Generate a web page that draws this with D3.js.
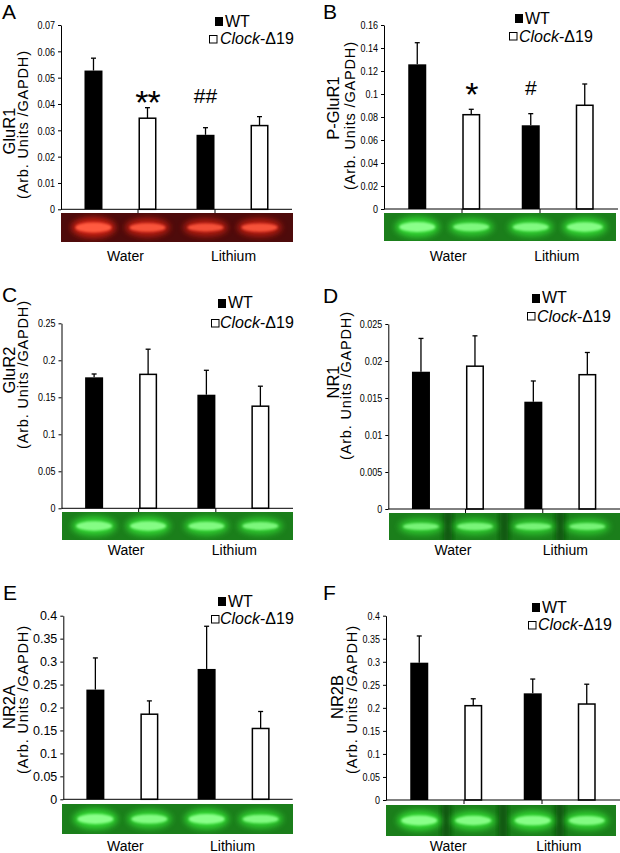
<!DOCTYPE html>
<html><head><meta charset="utf-8">
<script src="https://cdn.jsdelivr.net/npm/d3@7"></script>
<style>body{margin:0;background:#fff}svg{display:block}</style>
</head><body>
<svg id="chart" width="620" height="853"></svg>
<script>
// ---------------- DATA ----------------
const categories = ["Water", "Lithium"];
const seriesNames = ["WT", "Clock-Δ19"];

// order of each array: [Water, Lithium]
const gluR1WT = [0.0527, 0.0283], gluR1Clock = [0.0346, 0.0318];
const gluR1WTErr = [0.0047, 0.0027], gluR1ClockErr = [0.0040, 0.0034];
const gluR1Ticks = [0, 0.01, 0.02, 0.03, 0.04, 0.05, 0.06, 0.07];
const gluR1Marks = ["", "**", "##", ""]; // WT-Water, Clock-Water, WT-Lithium, Clock-Lithium

const pGluR1WT = [0.1258, 0.0728], pGluR1Clock = [0.0820, 0.0902];
const pGluR1WTErr = [0.0188, 0.0101], pGluR1ClockErr = [0.0047, 0.0185];
const pGluR1Ticks = [0, 0.02, 0.04, 0.06, 0.08, 0.1, 0.12, 0.14, 0.16];
const pGluR1Marks = ["", "*", "#", ""];

const gluR2WT = [0.177, 0.1535], gluR2Clock = [0.181, 0.138];
const gluR2WTErr = [0.0045, 0.033], gluR2ClockErr = [0.034, 0.027];
const gluR2Ticks = [0, 0.05, 0.1, 0.15, 0.2, 0.25];

const nr1WT = [0.01855, 0.0145], nr1Clock = [0.0193, 0.01815];
const nr1WTErr = [0.0045, 0.0028], nr1ClockErr = [0.0041, 0.003];
const nr1Ticks = [0, 0.005, 0.01, 0.015, 0.02, 0.025];

const nr2aWT = [0.239, 0.284], nr2aClock = [0.1854, 0.1543];
const nr2aWTErr = [0.069, 0.093], nr2aClockErr = [0.029, 0.037];
const nr2aTicks = [0, 0.05, 0.1, 0.15, 0.2, 0.25, 0.3, 0.35, 0.4];

const nr2bWT = [0.298, 0.2315], nr2bClock = [0.2047, 0.2083];
const nr2bWTErr = [0.058, 0.031], nr2bClockErr = [0.015, 0.043];
const nr2bTicks = [0, 0.05, 0.1, 0.15, 0.2, 0.25, 0.3, 0.35, 0.4];

// western blot band strengths (WT-Water, Clock-Water, WT-Lithium, Clock-Lithium)
const blotA = [1.0, 0.8, 0.7, 0.75];
const blotB = [1.0, 0.75, 0.8, 0.9];
const blotC = [0.9, 0.9, 0.8, 0.7];
const blotD = [0.6, 0.65, 0.6, 0.6];
const blotE = [1.0, 0.85, 1.0, 0.8];
const blotF = [1.0, 0.9, 0.95, 0.85];

// ---------------- LAYOUT ----------------
const panels = [
  {letter:"A", lx:2, ly:19, x0:61, x1:292, yb:209.3, yt:25, ticks:gluR1Ticks,
   wt:gluR1WT, ck:gluR1Clock, wtE:gluR1WTErr, ckE:gluR1ClockErr, marks:gluR1Marks, markY:[114,103],
   name:"GluR1", nameX:8.5, nameY:131, subX:22.5, subY:125,
   leg:{sx:215, sy:17, tx:225, ty:26.5, ox:209, oy:35, otx:220, oty:43.5},
   blot:{x0:61, x1:293, y:213, h:29, red:true, k:blotA}, catY:261, catDx:[5,1], xTicks:true, narrow:true},
  {letter:"B", lx:323, ly:19, x0:384, x1:618, yb:209, yt:25, ticks:pGluR1Ticks,
   wt:pGluR1WT, ck:pGluR1Clock, wtE:pGluR1WTErr, ckE:pGluR1ClockErr, marks:pGluR1Marks, markY:[106,95],
   name:"P-GluR1", nameX:333, nameY:108, subX:349.5, subY:116,
   leg:{sx:515, sy:14, tx:525, ty:24, ox:509, oy:32, otx:519, oty:41.5},
   blot:{x0:384, x1:616, y:213, h:28, k:blotB}, catY:261, catDx:[4,-1], xTicks:true, narrow:true},
  {letter:"C", lx:2, ly:302, x0:61.5, x1:293, yb:508.3, yt:323.3, ticks:gluR2Ticks,
   wt:gluR2WT, ck:gluR2Clock, wtE:gluR2WTErr, ckE:gluR2ClockErr,
   name:"GluR2", nameX:8.5, nameY:370, subX:22.5, subY:375,
   leg:{sx:218, sy:299, tx:228, ty:308, ox:211, oy:319, otx:220, oty:328},
   blot:{x0:62, x1:293, y:512, h:28, k:blotC}, catY:555, catDx:[5,1], xTicks:true, narrow:true},
  {letter:"D", lx:323, ly:303, x0:388.3, x1:620, yb:509, yt:324, ticks:nr1Ticks,
   wt:nr1WT, ck:nr1Clock, wtE:nr1WTErr, ckE:nr1ClockErr,
   name:"NR1", nameX:333, nameY:382, subX:346, subY:386,
   leg:{sx:532, sy:294, tx:542, ty:303, ox:527, oy:312, otx:537, oty:321.5},
   blot:{x0:389, x1:620, y:513, h:27, k:blotD, lanes:true}, catY:555, catDx:[5,5], xTicks:true, narrow:true},
  {letter:"E", lx:3, ly:600, x0:63.3, x1:292.7, yb:799.3, yt:615.7, ticks:nr2aTicks,
   wt:nr2aWT, ck:nr2aClock, wtE:nr2aWTErr, ckE:nr2aClockErr,
   name:"NR2A", nameX:8.5, nameY:707, subX:23, subY:700,
   leg:{sx:218, sy:597, tx:228, ty:606.5, ox:211, oy:615, otx:220, oty:624},
   blot:{x0:62, x1:293, y:804, h:30, k:blotE}, catY:851, catDx:[3,-1], xTicks:false, narrow:false},
  {letter:"F", lx:323, ly:600, x0:386, x1:620, yb:800, yt:615.7, ticks:nr2bTicks,
   wt:nr2bWT, ck:nr2bClock, wtE:nr2bWTErr, ckE:nr2bClockErr,
   name:"NR2B", nameX:337, nameY:697, subX:352, subY:700,
   leg:{sx:532, sy:603, tx:542, ty:613, ox:528, oy:621, otx:538, oty:630},
   blot:{x0:386, x1:616, y:805, h:31, k:blotF, lanes:true}, catY:851, catDx:[2,-1], xTicks:true, narrow:true}
];

const svg = d3.select("#chart");
const defs = svg.append("defs");
defs.append("filter").attr("id","blur3").attr("x","-50%").attr("y","-100%").attr("width","200%").attr("height","300%")
  .append("feGaussianBlur").attr("stdDeviation", 3);
defs.append("filter").attr("id","blur1").attr("x","-50%").attr("y","-100%").attr("width","200%").attr("height","300%")
  .append("feGaussianBlur").attr("stdDeviation", 1.3);

const fmt = d => d === 0 ? "0" : String(+d.toPrecision(6));
const SANS = "'Liberation Sans', Arial, sans-serif";

panels.forEach((p, pi) => {
  const g = svg.append("g");
  const y = d3.scaleLinear().domain([p.ticks[0], p.ticks[p.ticks.length-1]]).range([p.yb, p.yt]);
  const W = p.x1 - p.x0;
  const outer = d3.scalePoint().domain(categories).range([p.x0, p.x1]).padding(0.531);
  const inner = d3.scaleBand().domain(seriesNames).range([-36, 36]).paddingInner(2/3).paddingOuter(0);

  const bars = [];
  categories.forEach((c, ci) => {
    bars.push({cat:c, s:seriesNames[0], v:p.wt[ci], e:p.wtE[ci]});
    bars.push({cat:c, s:seriesNames[1], v:p.ck[ci], e:p.ckE[ci]});
  });
  bars.forEach((b, i) => { b.x = outer(b.cat) + inner(b.s); b.mark = p.marks ? p.marks[i] : ""; b.k = p.blot.k[i]; });
  const bw = inner.bandwidth();

  // error bars
  g.selectAll(".err").data(bars).join("g").each(function(b){
    const cx = b.x + bw/2;
    const s = d3.select(this);
    s.append("line").attr("x1",cx).attr("x2",cx).attr("y1",y(b.v)).attr("y2",y(b.v+b.e)).attr("stroke","#000").attr("stroke-width",1.3);
    s.append("line").attr("x1",cx-2.5).attr("x2",cx+2.5).attr("y1",y(b.v+b.e)).attr("y2",y(b.v+b.e)).attr("stroke","#000").attr("stroke-width",1.3);
  });
  // bars
  g.selectAll(".bar").data(bars).join("rect")
    .attr("x", b => b.s === seriesNames[0] ? b.x : b.x + 0.75)
    .attr("width", b => b.s === seriesNames[0] ? bw : bw - 1.5)
    .attr("y", b => y(b.v))
    .attr("height", b => y(0) - y(b.v))
    .attr("fill", b => b.s === seriesNames[0] ? "#000" : "#fff")
    .attr("stroke", b => b.s === seriesNames[0] ? "none" : "#000")
    .attr("stroke-width", 1.5);

  // y axis
  const ax = d3.axisLeft(y).tickValues(p.ticks).tickFormat(fmt).tickSize(3).tickSizeOuter(0).tickPadding(3);
  const ag = g.append("g").attr("transform", `translate(${p.x0},0)`).call(ax);
  ag.select(".domain").attr("stroke","#000");
  ag.selectAll("line").attr("stroke","#000");
  ag.selectAll("text").attr("font-family", SANS)
    .attr("font-size", p.narrow ? 11.5 : 12.5).attr("fill","#000");
  if (p.narrow) {
    ag.selectAll("text").each(function(){
      const l = this.getComputedTextLength();
      d3.select(this).attr("textLength", l*0.78).attr("lengthAdjust","spacingAndGlyphs");
    });
  }

  // x axis
  g.append("line").attr("x1",p.x0).attr("x2",p.x1).attr("y1",p.yb).attr("y2",p.yb).attr("stroke","#000").attr("stroke-width",1);
  if (p.xTicks) {
    [1/3, 2/3].forEach(f => g.append("line").attr("x1",p.x0+W*f).attr("x2",p.x0+W*f)
      .attr("y1",p.yb).attr("y2",p.yb+4).attr("stroke","#000"));
  }

  // significance marks
  g.selectAll(".mark").data(bars.filter(b => b.mark)).join("text")
    .attr("x", b => b.x + bw/2).attr("y", b => b.mark[0] === "*" ? p.markY[0] : p.markY[1])
    .attr("text-anchor","middle").attr("font-family",SANS)
    .attr("font-size", b => b.mark[0] === "*" ? 34 : 21)
    .attr("letter-spacing", b => b.mark[0] === "*" ? -1 : 0)
    .text(b => b.mark);

  // panel letter
  g.append("text").attr("x",p.lx).attr("y",p.ly).attr("font-family",SANS).attr("font-size",21).text(p.letter);

  // y titles
  g.append("text").attr("transform",`translate(${p.nameX},${p.nameY}) rotate(-90)`)
    .attr("text-anchor","middle").attr("dominant-baseline","central")
    .attr("font-family",SANS).attr("font-size",16.5).text(p.name);
  g.append("text").attr("transform",`translate(${p.subX},${p.subY}) rotate(-90)`)
    .attr("text-anchor","middle").attr("dominant-baseline","central")
    .attr("font-family",SANS).attr("font-size",14.5)
    .attr("textLength",148).attr("lengthAdjust","spacing").text("(Arb. Units /GAPDH)");

  // legend
  const L = p.leg;
  g.append("rect").attr("x",L.sx).attr("y",L.sy).attr("width",8).attr("height",9).attr("fill","#000");
  g.append("text").attr("x",L.tx).attr("y",L.ty).attr("font-family",SANS).attr("font-size",16).text(seriesNames[0]);
  g.append("rect").attr("x",L.ox+0.5).attr("y",L.oy+0.5).attr("width",7.5).attr("height",7.5).attr("fill","#fff").attr("stroke","#000").attr("stroke-width",1);
  const lt = g.append("text").attr("x",L.otx).attr("y",L.oty).attr("font-family",SANS).attr("font-size",16);
  const parts = seriesNames[1].split("-");
  lt.append("tspan").attr("font-style","italic").text(parts[0]);
  lt.append("tspan").text("-" + parts[1]);

  // blot strip
  const B = p.blot;
  const clipId = "clip" + pi;
  defs.append("clipPath").attr("id", clipId).append("rect").attr("x",B.x0).attr("y",B.y).attr("width",B.x1-B.x0).attr("height",B.h);
  const bg = g.append("g").attr("clip-path",`url(#${clipId})`);
  const bgCol = B.red ? "#4e0b0b" : "#1b7e1b";
  const bandCol = B.red ? "#ff2a16" : "#3dff3d";
  const coreCol = B.red ? "#ff5a40" : "#8aff8a";
  bg.append("rect").attr("x",B.x0).attr("y",B.y).attr("width",B.x1-B.x0).attr("height",B.h).attr("fill",bgCol);
  const cy = B.y + B.h/2;
  if (B.lanes) {
    const mids = [];
    for (let i = 0; i < bars.length-1; i++) mids.push((bars[i].x + bars[i+1].x + bw)/2);
    bg.selectAll(".lane").data(mids).join("rect").attr("x", d => d-4).attr("width",8)
      .attr("y",B.y-5).attr("height",B.h+10).attr("fill", B.red ? "#2a0404" : "#0d4f0d").attr("filter","url(#blur3)");
  }
  bg.selectAll(".glow").data(bars).join("ellipse")
    .attr("cx", b => b.x + bw/2).attr("cy", cy)
    .attr("rx", 22).attr("ry", b => 5 + 5*b.k)
    .attr("fill", bandCol).attr("opacity", b => 0.35 + 0.35*b.k).attr("filter","url(#blur3)");
  bg.selectAll(".band").data(bars).join("ellipse")
    .attr("cx", b => b.x + bw/2).attr("cy", cy)
    .attr("rx", 18).attr("ry", b => 1.5 + 3.5*b.k)
    .attr("fill", coreCol).attr("opacity", b => 0.5 + 0.5*b.k).attr("filter","url(#blur1)");

  // category labels
  g.selectAll(".cat").data(categories).join("text")
    .attr("x", (c, i) => outer(c) + p.catDx[i]).attr("y", p.catY)
    .attr("text-anchor","middle").attr("font-family",SANS).attr("font-size",14).text(c => c);
});
</script>
</body></html>
